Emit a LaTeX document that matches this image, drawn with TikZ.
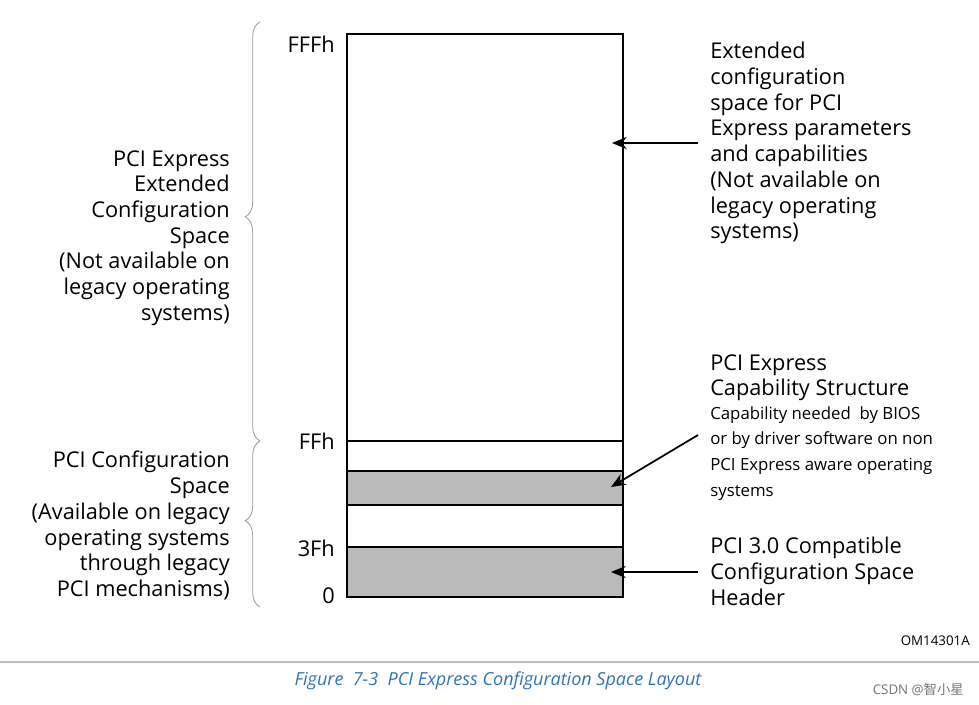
\documentclass[tikz,border=0pt]{standalone}
\usepackage{fontspec}
\setmainfont{Open Sans}
\newfontfamily\cjk{Noto Sans CJK SC}
\usetikzlibrary{decorations.pathreplacing,arrows.meta}
\tikzset{
 lbl/.style={font=\fontsize{16.3}{19.3}\selectfont,inner sep=0pt},
 sml/.style={font=\fontsize{12.6}{19.3}\selectfont,inner sep=0pt},
 br/.style={draw=gray!80,line width=0.6pt,decorate,decoration={brace,amplitude=11pt,aspect=#1}},
 arr/.style={draw,line width=1.3pt,-{Stealth[length=11pt,width=9pt]}},
 gbox/.style={fill=black!27,draw=black,line width=1.2pt}
}
\begin{document}
\begin{tikzpicture}[x=0.75pt,y=-0.75pt]
\useasboundingbox (0,0) rectangle (979,705);
\fill[gbox] (347,471) rectangle (623,505);
\fill[gbox] (347,547) rectangle (623,597);
\draw[line width=1.2pt] (347,34) rectangle (623,597);
\foreach \y in {441,471,505,547} \draw[line width=1.2pt] (347,\y) -- (623,\y);
\coordinate (bt) at (260,22); \coordinate (bm) at (260,441); \coordinate (bb) at (260,607);
\draw[br=0.535] (bm) -- (bt);
\draw[br=0.52] (bb) -- (bm);
\node[lbl,anchor=north east,align=right] (f1) at (335,36) {FFFh};
\node[lbl,anchor=east] (f2) at (335,441) {FFh};
\node[lbl,anchor=east] (f3) at (335,548) {3Fh};
\node[lbl,anchor=east] (f4) at (335,596) {0};
\node[lbl,anchor=north east,align=right] (l1) at (230,150) {PCI Express\\Extended\\Configuration\\Space\\(Not available on\\legacy operating\\systems)};
\node[lbl,anchor=north east,align=right] (l2) at (230,451) {PCI Configuration\\Space\\(Available on legacy\\operating systems\\through legacy\\PCI mechanisms)};
\node[lbl,anchor=north west,align=left] (r1) at (710,42) {Extended\\configuration\\space for PCI\\Express parameters\\and capabilities\\(Not available on\\legacy operating\\systems)};
\node[lbl,anchor=north west,align=left] (r2) at (710,354) {PCI Express\\Capability Structure};
\node[sml,anchor=north west,align=left] (r3) at (710,406) {Capability needed\ \ by BIOS\\or by driver software on non\\PCI Express aware operating\\systems};
\node[lbl,anchor=north west,align=left] (r4) at (710,537) {PCI 3.0 Compatible\\Configuration Space\\Header};
\coordinate (a1) at (698,143); \coordinate (t1) at (612,143);
\coordinate (a2) at (698,435); \coordinate (t2) at (611,487);
\coordinate (a3) at (698,572); \coordinate (t3) at (611,572);
\draw[arr] (a1) -- (t1);
\draw[arr] (a2) -- (t2);
\draw[arr] (a3) -- (t3);
\node[font=\fontsize{10}{12}\selectfont,anchor=east,inner sep=0pt] (om) at (970,641) {OM14301A};
\draw[black!25,line width=0.8pt] (0,662) -- (979,662);
\node[font=\fontsize{13.5}{15}\selectfont\itshape,text={rgb,255:red,46;green,116;blue,181},inner sep=0pt] (cap) at (498,681) {Figure\ \ 7-3\ \ PCI Express Configuration Space Layout};
\node[font=\fontsize{10}{12}\selectfont,text=black!55,anchor=east,inner sep=0pt] (cs) at (964,689) {CSDN @{\cjk 智小星}};
\end{tikzpicture}
\end{document}
